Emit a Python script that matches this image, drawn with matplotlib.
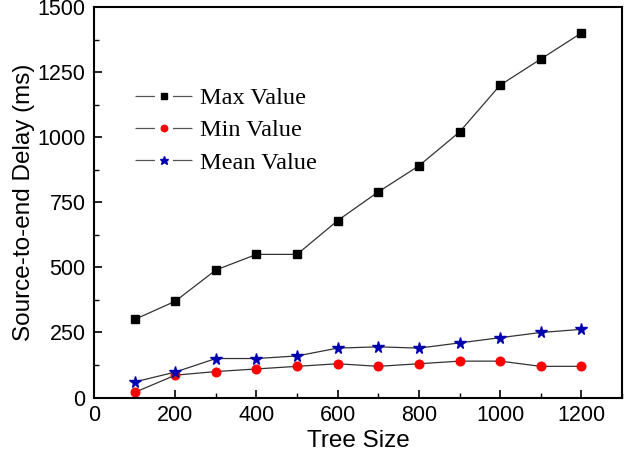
import matplotlib.pyplot as plt
from matplotlib.lines import Line2D
from matplotlib.ticker import MultipleLocator

tree_size = [100, 200, 300, 400, 500, 600, 700, 800, 900, 1000, 1100, 1200]
max_value = [300, 370, 490, 550, 550, 680, 790, 890, 1020, 1200, 1300, 1400]
min_value = [20, 86, 100, 110, 120, 130, 120, 130, 140, 140, 120, 120]
mean_value = [60, 98, 150, 150, 160, 190, 195, 190, 210, 230, 250, 262]

series = [
    ('Max Value', max_value, 's', 'black', 5.5),
    ('Min Value', min_value, 'o', '#ff0000', 6.2),
    ('Mean Value', mean_value, '*', '#0000b0', 8.5),
]

plt.rcParams['lines.scale_dashes'] = False

fig = plt.figure(figsize=(6.28, 4.58), dpi=100)
ax = fig.add_axes([0.1497, 0.1319, 0.8407, 0.8528])

handles = []
for name, vals, mk, col, size in series:
    ax.plot(tree_size, vals, '-', color='#333333', lw=0.9,
            marker=mk, ms=size, mfc=col, mec=col)
    # legend proxy: line with a gap round the marker
    handles.append(Line2D([], [], color='#555555', lw=0.9,
                          ls=(0, (14, 13, 14, 50)),
                          marker=mk, ms=size * 0.75, mfc=col, mec=col))

ax.set_xlim(0, 1300)
ax.set_ylim(0, 1500)
ax.xaxis.set_major_locator(MultipleLocator(200))
ax.xaxis.set_minor_locator(MultipleLocator(100))
ax.yaxis.set_major_locator(MultipleLocator(250))
ax.yaxis.set_minor_locator(MultipleLocator(125))
ax.tick_params(which='major', direction='in', length=6, width=1.2,
               labelsize=15.5)
ax.tick_params(axis='x', which='major', pad=5)
ax.tick_params(axis='y', which='major', pad=6)
ax.tick_params(which='minor', direction='in', length=3.5, width=1.0)
for lab in ax.get_xticklabels() + ax.get_yticklabels():
    lab.set_fontfamily('Liberation Sans')
for sp in ax.spines.values():
    sp.set_linewidth(1.5)

ax.set_xlabel('Tree Size', fontsize=17.5, family='Liberation Sans', labelpad=3)
ax.set_ylabel('Source-to-end Delay (ms)', fontsize=17.5,
              family='Liberation Sans', labelpad=2)

ax.legend(handles, [s[0] for s in series], loc='upper left',
          bbox_to_anchor=(0.078, 0.795), frameon=False,
          prop={'family': 'Liberation Serif', 'size': 17.5},
          handlelength=2.35, handletextpad=0.3, labelspacing=0.42,
          borderaxespad=0, borderpad=0)

fig.savefig('out.png', dpi=100)
